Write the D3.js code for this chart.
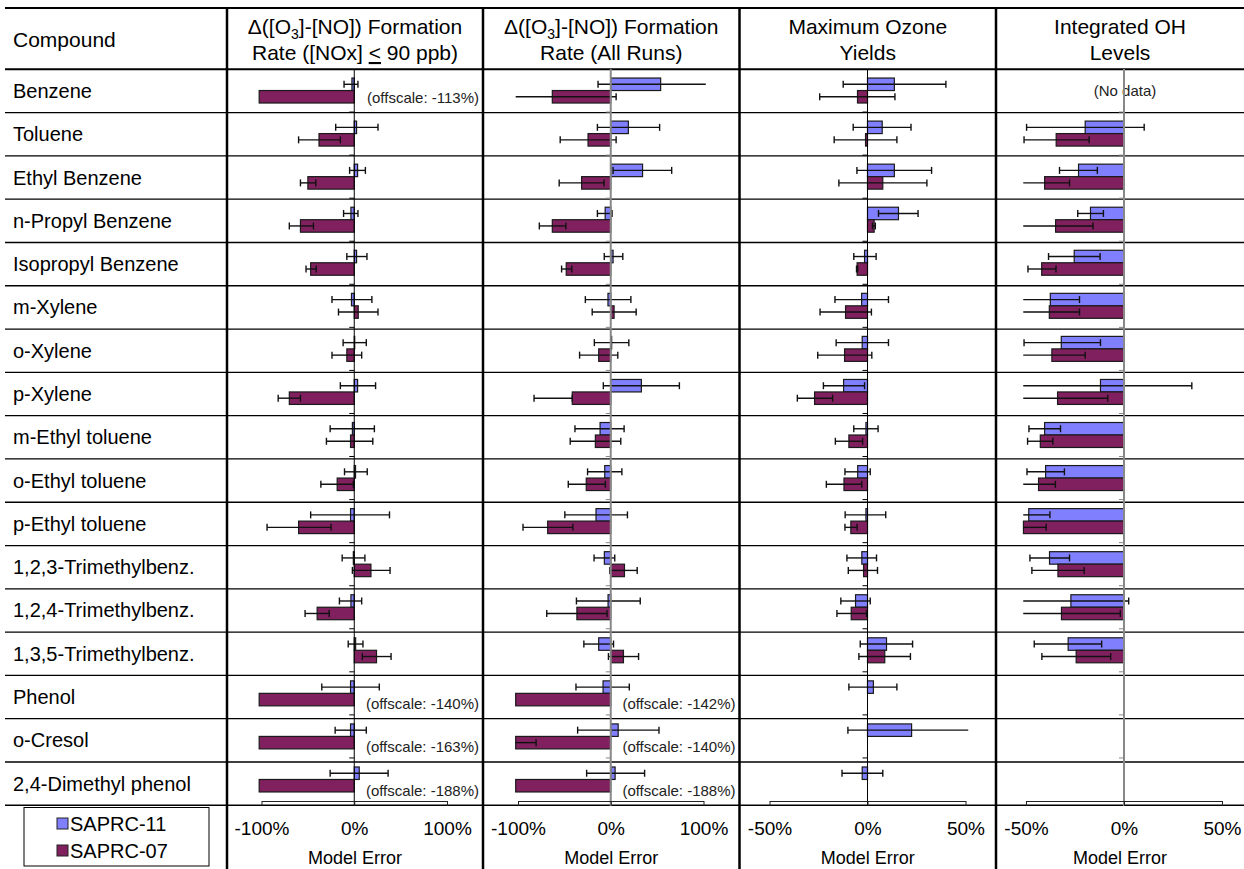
<!DOCTYPE html>
<html>
<head>
<meta charset="utf-8">
<script src="https://cdn.jsdelivr.net/npm/d3@7"></script>
<style>
  body { margin: 0; background: #fff; }
  svg { display: block; font-family: "Liberation Sans", Arial, sans-serif; }
</style>
</head>
<body>
<svg id="chart" width="1244" height="869"></svg>
<script>
// ---- Data -------------------------------------------------------------
const compounds = [
  "Benzene", "Toluene", "Ethyl Benzene", "n-Propyl Benzene", "Isopropyl Benzene",
  "m-Xylene", "o-Xylene", "p-Xylene", "m-Ethyl toluene", "o-Ethyl toluene",
  "p-Ethyl toluene", "1,2,3-Trimethylbenz.", "1,2,4-Trimethylbenz.",
  "1,3,5-Trimethylbenz.", "Phenol", "o-Cresol", "2,4-Dimethyl phenol"
];
const seriesNames = ["SAPRC-11", "SAPRC-07"];

// Δ([O3]-[NO]) formation rate, [NOx] <= 90 ppb (model error, %)
const lowNOx11     = [-2.5, 2.5, 3.6, -3.6, 2.5, -3, 0.5, 3.6, -2, 1.4, -4, -1, -3.6, 1.5, -4, -4, 5.4];
const lowNOx11Low  = [-11, -20, -5, -11.5, -8, -24, -12, -15, -26, -10.5, -47, -13, -16, -6.5, -35, -20.6, -26];
const lowNOx11High = [4, 25.6, 12, 4, 13.7, 19, 13, 23, 21.7, 14, 38, 11.5, 8, 9.4, 27, 13, 36.5];
const lowNOx07     = [-113, -38, -50, -58, -47, 4.3, -8, -70, -4, -18.4, -60, 18, -40, 24, -140, -163, -188];
const lowNOx07Low  = [null, -60, -58, -70, -52, -17, -24, -82, -30, -36, -94, -2, -53, 8.7, null, null, null];
const lowNOx07High = [null, -15, -41.5, -44, -41, 25.6, 8, -58, 20, -1, -25, 38.6, -27, 39.7, null, null, null];

// Δ([O3]-[NO]) formation rate, all runs
const allRuns11     = [53.8, 19, 34.3, -6, 2.5, -3, 1, 33, -11.5, -6.5, -15.9, -6.9, -2.9, -13, -8.3, 8, 4.7];
const allRuns11Low  = [-13.7, -14.4, 2.5, -14.4, -7, -27.4, -17.7, -8, -38.6, -25, -49.5, -18, -37, -29, -37.5, -35.7, -26];
const allRuns11High = [103.6, 52.7, 65.7, 1.4, 13, 21.7, 19.5, 74, 14.4, 12, 18, 4.3, 31.8, 3, 20, 52, 36.5];
const allRuns07     = [-63, -24.5, -31.4, -63, -48, 3.6, -13, -41.5, -16.6, -26.4, -68, 14.8, -36.5, 13.7, -142, -140, -188];
const allRuns07Low  = [-115, -54.5, -55.6, -77, -53, -20, -33.6, -82.7, -43.7, -45.8, -94.6, -1, -69, -2.5, null, -200, null];
const allRuns07High = [5.8, 5.8, -7.2, -48.4, -42, 27.4, 7.6, -41.5, 10.8, -5.8, -40.8, 28.5, -4, 30, null, -80.5, null];

// Maximum ozone yields
const maxO311     = [13.7, 7.5, 13.7, 15.8, -1.5, -3, -2.7, -12.2, -0.8, -5, -0.8, -2.9, -6.1, 9.7, 3, 22.5, -2.7];
const maxO311Low  = [-12.4, -7.3, -5.4, 5.6, -7, -16.6, -16, -22.5, -7, -11.5, -11.4, -10.5, -13.6, -3.7, -9.5, -10, -13];
const maxO311High = [40, 22.2, 32.7, 25.8, 4.4, 10.7, 10.7, -1.5, 5.4, 1.4, 9.3, 4.6, 1.4, 23, 15, 55, 7.8];
const maxO307     = [-5.1, -1, 7.8, 3.4, -5.3, -11.2, -11.7, -27, -9.5, -12, -8.5, -2, -8.3, 8.8, null, null, null];
const maxO307Low  = [-24.4, -17, -14.6, 2.5, -5.6, -24.2, -25.4, -35.8, -16.4, -21, -11.5, -9.8, -15.6, -4.4, null, null, null];
const maxO307High = [14, 15, 30.3, 4, -5, 2, 2.2, -17.8, -2.5, -2.9, -5.3, 5.1, -0.5, 21.9, null, null, null];

// Integrated OH levels
const intOH11     = [null, -19.8, -23.2, -17.1, -25.4, -37.6, -32, -12, -40.5, -40, -48.6, -38, -27.1, -28.5, null, null, null];
const intOH11Low  = [null, -49.7, -32.9, -23.6, -38.5, -60, -51, -60, -48.5, -49.5, -60, -48, -60, -45.8, null, null, null];
const intOH11High = [null, 10.3, -13.6, -10.5, -12.2, -22.7, -12, 34.6, -32.4, -30.4, -37.8, -27.8, 2.4, -11.4, null, null, null];
const intOH07     = [null, -34.6, -40.5, -34.9, -42, -38.1, -36.8, -33.9, -42.7, -43.6, -51.3, -33.7, -31.9, -24.4, null, null, null];
const intOH07Low  = [null, -51, -60, -60, -49, -60, -60, -60, -49.2, -60, -70, -47, -60, -41.9, null, null, null];
const intOH07High = [null, -17.8, -27.8, -15.8, -34.7, -22.7, -19.8, -8.3, -36.3, -35, -39.7, -20.3, -1.9, -6.8, null, null, null];
const intOHNoData = ["Benzene"];

const rateTicks = [-100, 0, 100];
const yieldTicks = [-50, 0, 50];
const axisTitle = "Model Error";
const columnTitle = "Compound";

// ---- Layout -----------------------------------------------------------
const W = 1244, H = 869;
const tableTop = 8, headTop = 69.3, tableBottom = 805.3;
const plotTop = 69, plotBottom = 801;
const dividers = [227, 483, 739.5, 996];
const fontMain = 20;
const fontHead = 21;

const panelDefs = [
  { cols: [227, 483], ticks: rateTicks, range: [261.5, 447], clip: 102.5, zeroColor: "#000", zeroWidth: 1,
    title: [[{ t: "Δ([O" }, { t: "3", sub: true }, { t: "]-[NO]) Formation" }],
            [{ t: "Rate ([NOx] " }, { t: "<", u: true }, { t: " 90 ppb)" }]],
    s: [[lowNOx11, lowNOx11Low, lowNOx11High], [lowNOx07, lowNOx07Low, lowNOx07High]], noData: [] },
  { cols: [483, 739.5], ticks: rateTicks, range: [518, 703.5], clip: 102.5, zeroColor: "#888", zeroWidth: 2,
    title: [[{ t: "Δ([O" }, { t: "3", sub: true }, { t: "]-[NO]) Formation" }],
            [{ t: "Rate (All Runs)" }]],
    s: [[allRuns11, allRuns11Low, allRuns11High], [allRuns07, allRuns07Low, allRuns07High]], noData: [] },
  { cols: [739.5, 996], ticks: yieldTicks, range: [769.5, 965.5], clip: 51.4, zeroColor: "#000", zeroWidth: 1,
    title: [[{ t: "Maximum Ozone" }], [{ t: "Yields" }]],
    s: [[maxO311, maxO311Low, maxO311High], [maxO307, maxO307Low, maxO307High]], noData: [] },
  { cols: [996, 1244], ticks: yieldTicks, range: [1026, 1222], clip: 51.4, zeroColor: "#888", zeroWidth: 2,
    title: [[{ t: "Integrated OH" }], [{ t: "Levels" }]],
    s: [[intOH11, intOH11Low, intOH11High], [intOH07, intOH07Low, intOH07High]], noData: intOHNoData }
];

const svg = d3.select("#chart");

const rowBand = d3.scaleBand().domain(compounds).range([plotTop, plotBottom]);
const seriesBand = d3.scaleBand().domain(seriesNames).range([0, rowBand.bandwidth()]).paddingOuter(0.724);
const tableRow = d3.scaleBand().domain(compounds).range([headTop, tableBottom]);
const color = d3.scaleOrdinal().domain(seriesNames).range(["#8080ff", "#80205f"]);

// ---- Table grid --------------------------------------------------------
const grid = svg.append("g");
grid.append("line").attr("x1", 5).attr("x2", W).attr("y1", tableTop).attr("y2", tableTop)
  .attr("stroke", "#000").attr("stroke-width", 2);
grid.append("line").attr("x1", 5).attr("x2", W).attr("y1", headTop).attr("y2", headTop)
  .attr("stroke", "#000").attr("stroke-width", 2);
grid.selectAll("line.row").data(compounds.slice(1)).join("line").attr("class", "row")
  .attr("x1", 5).attr("x2", W)
  .attr("y1", d => tableRow(d)).attr("y2", d => tableRow(d))
  .attr("stroke", "#000").attr("stroke-width", 1.3);
grid.append("line").attr("x1", 5).attr("x2", W).attr("y1", tableBottom).attr("y2", tableBottom)
  .attr("stroke", "#000").attr("stroke-width", 1.6);
grid.selectAll("line.div").data(dividers).join("line").attr("class", "div")
  .attr("x1", d => d).attr("x2", d => d).attr("y1", tableTop).attr("y2", H)
  .attr("stroke", "#000").attr("stroke-width", 2.5);

// ---- Compound column ----------------------------------------------------
svg.append("text").attr("x", 13).attr("y", 47).attr("font-size", fontHead).text(columnTitle);
svg.append("g").selectAll("text").data(compounds).join("text")
  .attr("x", 13).attr("y", d => tableRow(d) + tableRow.bandwidth() / 2 + 7)
  .attr("font-size", fontMain).text(d => d);

// Legend
const legend = svg.append("g");
legend.append("rect").attr("x", 24).attr("y", 807.5).attr("width", 185).attr("height", 58.5)
  .attr("fill", "none").attr("stroke", "#000").attr("stroke-width", 1);
seriesNames.forEach((name, i) => {
  const cy = 824 + i * 27;
  legend.append("rect").attr("x", 57).attr("y", cy - 6).attr("width", 11).attr("height", 11)
    .attr("fill", color(name)).attr("stroke", "#222").attr("stroke-width", 1);
  legend.append("text").attr("x", 70).attr("y", cy + 7).attr("font-size", fontMain).text(name);
});

// ---- Panels ------------------------------------------------------------
function drawTitle(g, cx, lines) {
  lines.forEach((segs, li) => {
    const txt = g.append("text").attr("x", cx).attr("y", 34 + li * 26)
      .attr("text-anchor", "middle").attr("font-size", fontHead);
    let shifted = 0;
    segs.forEach(s => {
      const ts = txt.append("tspan").text(s.t);
      if (s.sub) { ts.attr("font-size", 14).attr("dy", 5); shifted = 5; }
      else if (shifted) { ts.attr("dy", -shifted); shifted = 0; }
      if (s.u) ts.style("text-decoration", "underline");
    });
  });
}

panelDefs.forEach(p => {
  const g = svg.append("g");
  const x = d3.scaleLinear().domain([p.ticks[0], p.ticks[2]]).range(p.range);
  const clamp = v => Math.max(-p.clip, Math.min(p.clip, v));
  const cx = (p.cols[0] + p.cols[1]) / 2;
  drawTitle(g, cx, p.title);

  const recs = [];
  compounds.forEach((c, i) => {
    seriesNames.forEach((sn, k) => {
      const [vals, lows, highs] = p.s[k];
      if (vals[i] == null) return;
      recs.push({ c, sn, v: vals[i], lo: lows[i], hi: highs[i] });
    });
  });

  // bars
  g.append("g").selectAll("rect").data(recs).join("rect")
    .attr("x", d => x(Math.min(0, clamp(d.v))))
    .attr("width", d => Math.abs(x(clamp(d.v)) - x(0)))
    .attr("y", d => rowBand(d.c) + seriesBand(d.sn))
    .attr("height", seriesBand.bandwidth())
    .attr("fill", d => color(d.sn))
    .attr("stroke", "#1a1a1a").attr("stroke-width", 1.2);

  // error bars
  const eb = g.append("g").attr("stroke", "#111").attr("stroke-width", 1.4);
  recs.filter(d => d.lo != null && d.hi != null).forEach(d => {
    const yc = rowBand(d.c) + seriesBand(d.sn) + seriesBand.bandwidth() / 2;
    const x1 = x(clamp(d.lo)), x2 = x(clamp(d.hi));
    eb.append("line").attr("x1", x1).attr("x2", x2).attr("y1", yc).attr("y2", yc);
    if (Math.abs(d.lo) <= p.clip)
      eb.append("line").attr("x1", x1).attr("x2", x1).attr("y1", yc - 3.5).attr("y2", yc + 3.5);
    if (Math.abs(d.hi) <= p.clip)
      eb.append("line").attr("x1", x2).attr("x2", x2).attr("y1", yc - 3.5).attr("y2", yc + 3.5);
  });

  // offscale notes, built from the values that fall beyond the axis
  recs.filter(d => Math.abs(d.v) > p.clip).forEach(d => {
    g.append("text").attr("x", p.cols[1] - 4)
      .attr("y", tableRow(d.c) + tableRow.bandwidth() * 0.66 + 5)
      .attr("text-anchor", "end").attr("font-size", 15).attr("fill", "#222")
      .text(`(offscale: ${d.v}%)`);
  });

  // no data notes
  p.noData.forEach(c => {
    g.append("text").attr("x", x(0) + 1).attr("y", tableRow(c) + tableRow.bandwidth() / 2 + 5)
      .attr("text-anchor", "middle").attr("font-size", 15).attr("fill", "#222").text("(No data)");
  });

  // zero axis and category ticks
  g.append("line").attr("x1", x(0)).attr("x2", x(0)).attr("y1", plotTop).attr("y2", plotBottom + 5)
    .attr("stroke", p.zeroColor).attr("stroke-width", p.zeroWidth);
  g.append("g").selectAll("line").data(compounds.slice(1)).join("line")
    .attr("x1", x(0) - 5).attr("x2", x(0))
    .attr("y1", d => rowBand(d)).attr("y2", d => rowBand(d))
    .attr("stroke", p.zeroColor).attr("stroke-width", 1);

  // bottom value axis
  const axis = d3.axisBottom(x).tickValues(p.ticks).tickSize(5).tickSizeOuter(0)
    .tickPadding(16).tickFormat(d => d + "%");
  const ag = g.append("g").attr("transform", `translate(0,${plotBottom})`).call(axis);
  ag.select(".domain").attr("stroke", "#222");
  ag.selectAll(".tick line").attr("stroke", "#222");
  ag.selectAll(".tick text").attr("font-size", 19).attr("font-family", "'Liberation Sans', Arial, sans-serif").attr("fill", "#000");

  g.append("text").attr("x", cx).attr("y", 864).attr("text-anchor", "middle")
    .attr("font-size", 18).text(axisTitle);
});
</script>
</body>
</html>
